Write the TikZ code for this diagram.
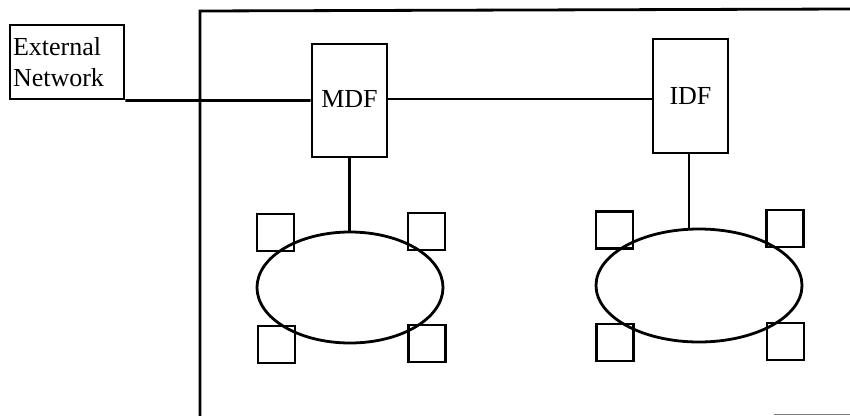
\documentclass[tikz,border=0pt]{standalone}
\usepackage{fontspec}
\setmainfont{Liberation Serif}
\usetikzlibrary{shapes.geometric}
\begin{document}
\begin{tikzpicture}[x=1pt,y=-1pt,
  line width=2.8pt,
  box/.style={draw,rectangle,minimum width=75pt,minimum height=114pt,inner sep=0pt,font=\fontsize{26}{31}\selectfont},
  ring/.style={draw,ellipse,inner sep=0pt},
  term/.style={draw,rectangle,minimum size=37pt,inner sep=0pt},
  wire/.style={line width=2.8pt}]
\useasboundingbox (0,0) rectangle (850,415);
% building outline
\coordinate (bl) at (200,416);
\coordinate (tl) at (200,11);
\coordinate (tr) at (851,9);
\draw[wire] (bl) -- (tl) -- (tr);
\coordinate (br1) at (774,414);
\coordinate (br2) at (851,414);
\draw[line width=1pt,gray] (br1) -- (br2);
% external network
\node[draw,rectangle,minimum width=114pt,minimum height=74pt,text width=108pt,inner xsep=3pt,inner ysep=0pt,align=left,font=\fontsize{26}{31}\selectfont] (ext) at (67,62) {External\\Network};
% MDF and IDF
\node[box,minimum height=113pt] (mdf) at (349.5,100.5) {\raisebox{3pt}{MDF}};
\node[box] (idf) at (690.5,96) {IDF};
\draw[wire] (ext.south east) -- (mdf.west);
\draw[wire] (mdf.east |- 0,99) -- (idf.west |- 0,99);
% rings
\node[ring,minimum width=186pt,minimum height=111pt] (r1) at (350,287.5) {};
\node[ring,minimum width=206pt,minimum height=113pt] (r2) at (699,285.5) {};
\draw[wire] (mdf.south) -- (r1.north -| mdf.south);
\draw[wire] (idf.south -| 689,0) -- (689,229);
% terminals ring 1
\node[term] (a1) at (275.5,232.5) {};
\node[term] (a2) at (426.5,231.5) {};
\node[term] (a3) at (276.5,344.5) {};
\node[term] (a4) at (427,343.5) {};
% terminals ring 2
\node[term] (b1) at (614.5,230) {};
\node[term] (b2) at (785,228.5) {};
\node[term] (b3) at (615,342.5) {};
\node[term] (b4) at (785.5,341.5) {};
\end{tikzpicture}
\end{document}
